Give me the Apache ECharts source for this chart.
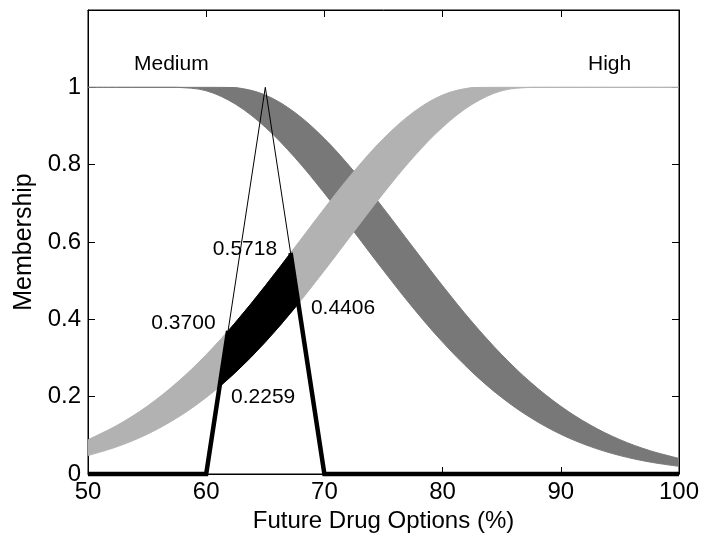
<!DOCTYPE html>
<html>
<head>
<meta charset="utf-8">
<script src="https://cdn.jsdelivr.net/npm/echarts@6/dist/echarts.min.js"></script>
<style>html,body{margin:0;padding:0;background:#fff;}#c{width:703px;height:540px;}</style>
</head>
<body>
<div id="c"></div>
<script>
// x sample positions (Future Drug Options %)
const xs = [50, 52.5, 55, 57.5, 60, 62.5, 65, 67.5, 70, 72.5, 75, 77.5, 80, 82.5, 85, 87.5, 90, 92.5, 95, 97.5, 100];
// "Medium" footprint of uncertainty (upper / lower membership)
const medUpper = [1, 1, 1, 1, 1, 0.9994, 0.9802, 0.935, 0.8674, 0.7827, 0.6869, 0.5863, 0.4868, 0.393, 0.3086, 0.2357, 0.1751, 0.1266, 0.0889, 0.0608, 0.0404];
const medLower = [1, 1, 1, 1, 0.9911, 0.956, 0.8968, 0.8183, 0.7261, 0.6268, 0.5262, 0.4296, 0.3411, 0.2634, 0.1979, 0.1446, 0.1027, 0.071, 0.0477, 0.0312, 0.0198];
// "High" footprint of uncertainty
const highUpper = [0.0889, 0.1266, 0.1751, 0.2357, 0.3086, 0.393, 0.4868, 0.5863, 0.6869, 0.7827, 0.8674, 0.935, 0.9802, 0.9994, 1, 1, 1, 1, 1, 1, 1];
const highLower = [0.0477, 0.071, 0.1027, 0.1446, 0.1979, 0.2634, 0.3411, 0.4296, 0.5262, 0.6268, 0.7261, 0.8183, 0.8968, 0.956, 0.9911, 1, 1, 1, 1, 1, 1];
// input triangle
const triX = [60, 65, 70];
const triY = [0, 1, 0];
// thick (clipped) parts of input
const thickLeftX = [50, 60, 61.85];
const thickLeftY = [0, 0, 0.37];
const thickRightX = [67.14, 70, 100];
const thickRightY = [0.5718, 0, 0];
// black firing region
const blackX = [61.13, 61.85, 62.5, 63.75, 65, 66.25, 67.14, 67.8, 67.5, 66.25, 65, 63.75, 62.5];
const blackY = [0.2259, 0.37, 0.393, 0.4389, 0.4868, 0.5361, 0.5718, 0.4406, 0.4296, 0.3841, 0.3411, 0.3008, 0.2634];
// annotated points
const annX = [61.85, 67.14, 67.8, 61.13];
const annY = [0.37, 0.5718, 0.4406, 0.2259];
// tick labels
const xTicks = [50, 60, 70, 80, 90, 100];
const yTicks = [0, 0.2, 0.4, 0.6, 0.8, 1];
const setNames = ['Medium', 'High'];

const FONT = "'Liberation Sans', Arial, Helvetica, sans-serif";
const DARK = '#787878';
const LIGHT = '#b2b2b2';

const pairs = (xa, ya) => xa.map((x, i) => [x, ya[i]]);
const NOBOX = () => [[Infinity, Infinity], [-Infinity, -Infinity]];

function bandSeries(upper, lower, color, z) {
  return {
    type: 'custom', clip: true, z: z,
    data: pairs(xs, upper),
    renderItem: (params, api) => {
      if (params.dataIndex !== 0) return null;
      const up = xs.map((x, i) => api.coord([x, upper[i]]));
      const lo = xs.map((x, i) => api.coord([x, lower[i]])).reverse();
      // repeat the four end corners so smoothing keeps them sharp
      const ring = [up[0]].concat(up, [up[up.length - 1], lo[0]], lo, [lo[lo.length - 1]]);
      return {
        type: 'group',
        children: [
          {type: 'polygon', shape: {points: ring, smooth: 0.35, smoothConstraint: NOBOX()},
           style: {fill: color, stroke: null}},
          {type: 'polyline', shape: {points: up, smooth: 0.35, smoothConstraint: NOBOX()},
           style: {stroke: color, lineWidth: 1, fill: null}},
          {type: 'polyline', shape: {points: lo, smooth: 0.35, smoothConstraint: NOBOX()},
           style: {stroke: color, lineWidth: 1, fill: null}}
        ]
      };
    }
  };
}

const chart = echarts.init(document.getElementById('c'), null, {renderer: 'canvas'});

const annPos = [
  {position: 'left', distance: 12, offset: [0, -8]},
  {position: 'left', distance: 13, offset: [0, -4]},
  {position: 'right', distance: 12, offset: [0, 5]},
  {position: 'right', distance: 11, offset: [0, 11]}
];

const option = {
  animation: false,
  backgroundColor: '#fff',
  textStyle: {fontFamily: FONT},
  grid: {left: 88, right: 24, top: 10, bottom: 66, show: true, borderColor: '#000', borderWidth: 1, backgroundColor: 'transparent'},
  xAxis: [
    {type: 'value', min: 50, max: 100, interval: 10, position: 'bottom',
     name: 'Future Drug Options (%)', nameLocation: 'middle', nameGap: 33,
     nameTextStyle: {fontSize: 24, color: '#000', fontFamily: FONT},
     axisLine: {show: true, onZero: false, lineStyle: {color: '#000', width: 1}},
     axisTick: {show: true, inside: true, length: 7, lineStyle: {color: '#000'}},
     axisLabel: {fontSize: 24, color: '#000', margin: 6, fontFamily: FONT,
       formatter: v => xTicks.includes(v) ? String(v) : ''},
     splitLine: {show: false}},
    {type: 'value', min: 50, max: 100, interval: 10, position: 'top',
     axisLine: {show: true, onZero: false, lineStyle: {color: '#000', width: 1}},
     axisTick: {show: true, inside: true, length: 7, lineStyle: {color: '#000'}},
     axisLabel: {show: false}, splitLine: {show: false}}
  ],
  yAxis: [
    {type: 'value', min: 0, max: 1.2, interval: 0.2, position: 'left',
     name: 'Membership', nameLocation: 'middle', nameGap: 48,
     nameTextStyle: {fontSize: 25, color: '#000', fontFamily: FONT},
     axisLine: {show: true, onZero: false, lineStyle: {color: '#000', width: 1}},
     axisTick: {show: true, inside: true, length: 7, lineStyle: {color: '#000'}},
     axisLabel: {fontSize: 24, color: '#000', margin: 7, fontFamily: FONT,
       formatter: v => {
         const t = yTicks.find(k => Math.abs(k - v) < 1e-6);
         return t === undefined ? '' : String(t);
       }},
     splitLine: {show: false}},
    {type: 'value', min: 0, max: 1.2, interval: 0.2, position: 'right',
     axisLine: {show: true, onZero: false, lineStyle: {color: '#000', width: 1}},
     axisTick: {show: true, inside: true, length: 7, lineStyle: {color: '#000'}},
     axisLabel: {show: false}, splitLine: {show: false}}
  ],
  graphic: [
    {type: 'text', left: 134, top: 54, style: {text: setNames[0], font: '21px ' + FONT, fill: '#000'}},
    {type: 'text', left: 588, top: 54, style: {text: setNames[1], font: '21px ' + FONT, fill: '#000'}}
  ],
  series: [
    bandSeries(medUpper, medLower, DARK, 2),
    bandSeries(highUpper, highLower, LIGHT, 3),
    {type: 'custom', data: pairs(blackX, blackY), z: 4,
     renderItem: (params, api) => {
       if (params.dataIndex !== 0) return null;
       const pts = blackX.map((x, i) => api.coord([x, blackY[i]]));
       return {type: 'polygon', shape: {points: pts}, style: {fill: '#000', stroke: '#000', lineWidth: 1}};
     }},
    {type: 'line', data: pairs(triX, triY), symbol: 'none', lineStyle: {color: '#000', width: 1}, z: 5},
    {type: 'line', data: pairs(thickLeftX, thickLeftY), symbol: 'none', clip: false,
     lineStyle: {color: '#000', width: 4.5, join: 'miter'}, z: 6},
    {type: 'line', data: pairs(thickRightX, thickRightY), symbol: 'none', clip: false,
     lineStyle: {color: '#000', width: 4.5, join: 'miter'}, z: 6},
    {type: 'scatter', symbol: 'circle', symbolSize: 1, itemStyle: {color: 'rgba(0,0,0,0)', opacity: 1}, z: 7,
     data: annX.map((x, i) => ({
       value: [x, annY[i]],
       label: Object.assign({show: true, fontSize: 21, color: '#000', opacity: 1, fontFamily: FONT,
         formatter: p => p.value[1].toFixed(4)}, annPos[i])
     }))}
  ]
};
chart.setOption(option);
</script>
</body>
</html>
